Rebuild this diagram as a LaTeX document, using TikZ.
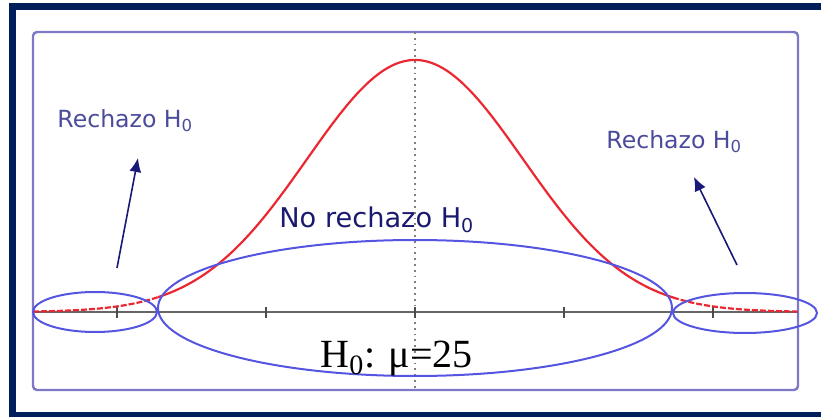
\documentclass[tikz,border=0pt]{standalone}
\usepackage{fontspec}
\setmainfont{Liberation Serif}
\newfontfamily\labelfont{DejaVu Sans}
\usepackage{tikz}
\usetikzlibrary{arrows.meta}

\definecolor{framenavy}{RGB}{0,30,90}
\definecolor{boxlav}{RGB}{125,120,200}
\definecolor{ellblue}{RGB}{85,85,225}
\definecolor{arrnavy}{RGB}{25,25,120}
\definecolor{txtlav}{RGB}{75,75,155}
\definecolor{txtnavy}{RGB}{25,25,110}
\definecolor{curvered}{RGB}{235,40,50}

\begin{document}
\begin{tikzpicture}[x=0.5pt, y=-0.5pt, every node/.style={inner sep=0pt, anchor=base west},
  rejlabel/.style={text=txtlav, font=\labelfont\fontsize{11.8}{14}\selectfont},
  region/.style={ellblue, line width=1pt},
  pointer/.style={arrnavy, line width=0.8pt, -{Latex[length=7pt,width=6pt]}}]
  \useasboundingbox (0,0) rectangle (821,417);
  \clip (0,0) rectangle (821,417);
  \draw[framenavy, line width=3.5pt] (12,7) rectangle (840,416);
  \draw[boxlav, line width=1.2pt, rounded corners=2pt] (33,32) rectangle (798,390);

  \draw[gray, dotted, line width=0.9pt] (415,32) -- (415,390);
  \draw[gray!80!black, line width=1pt] (33,312) -- (798,312);
  \foreach \t in {117,266,415,564,713}
    \draw[black!70, line width=1pt] (\t,307) -- (\t,318);

  \draw[curvered, line width=1.1pt, domain=158:673, samples=120]
    plot (\x,{312-252*exp(-0.5*((\x-415)/108)^2)});
  \draw[curvered, line width=1.1pt, dash pattern=on 3pt off 1pt, domain=33:158, samples=40]
    plot (\x,{312-252*exp(-0.5*((\x-415)/108)^2)});
  \draw[curvered, line width=1.1pt, dash pattern=on 3pt off 1pt, domain=673:797, samples=40]
    plot (\x,{312-252*exp(-0.5*((\x-415)/108)^2)});

  \draw[region] (95,312) ellipse [x radius=62, y radius=20];
  \draw[region] (745,313) ellipse [x radius=72, y radius=20];
  \draw[region] (415,308) ellipse [x radius=257, y radius=68];

  \node[rejlabel] (rejL) at (57,128) {Rechazo H\textsubscript{0}};
  \node[rejlabel] (rejR) at (606,149) {Rechazo H\textsubscript{0}};
  \node[text=txtnavy, font=\labelfont\fontsize{13.6}{16}\selectfont] (norej) at (279,228) {No rechazo H\textsubscript{0}};
  \node[font=\fontsize{20}{24}\selectfont] (hyp) at (320,368) {H\textsubscript{0}: μ=25};

  \coordinate (ptrLs) at (117,268);
  \coordinate (ptrLe) at (138,158);
  \coordinate (ptrRs) at (737,265);
  \coordinate (ptrRe) at (694,177);
  \draw[pointer] (ptrLs) -- (ptrLe);
  \draw[pointer] (ptrRs) -- (ptrRe);
\end{tikzpicture}
\end{document}
